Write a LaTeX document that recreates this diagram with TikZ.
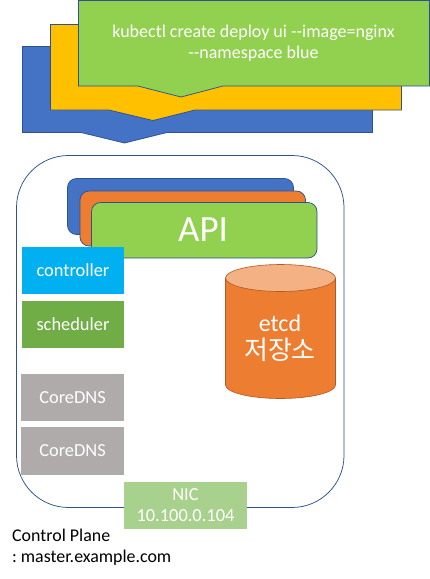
\documentclass[tikz,border=0pt]{standalone}
\usepackage{fontspec}
\setmainfont{Carlito}
\newfontfamily\krfont{Noto Sans CJK KR}
\definecolor{edgeblue}{HTML}{2F528F}
\definecolor{cblue}{HTML}{4472C4}
\definecolor{corange}{HTML}{ED7D31}
\definecolor{cyellow}{HTML}{FFC000}
\definecolor{cgreen}{HTML}{92D050}
\definecolor{ccyan}{HTML}{00B0F0}
\definecolor{csched}{HTML}{70AD47}
\definecolor{cgray}{HTML}{AFABAB}
\definecolor{cnic}{HTML}{A9D18E}
\definecolor{ctop}{HTML}{F4B183}
\definecolor{cedge}{HTML}{AE5A21}
\tikzset{
  x=1pt,y=-1pt,
  callout/.style={draw=edgeblue,line width=0.75pt,line join=miter},
  apibox/.style={draw=edgeblue,line width=0.75pt,rounded corners=9pt},
  flat/.style={inner sep=0pt,outer sep=0pt,text=white,align=center,font=\fontsize{18.4}{21}\selectfont,anchor=north west},
  lbl/.style={inner sep=0pt,text=white,align=center},
}
\begin{document}
\begin{tikzpicture}
\useasboundingbox (0,0) rectangle (430,579);
\fill[white] (0,0) rectangle (430,579);
% stacked callouts
\draw[callout,fill=cblue] (22.5,46.5) -- (372.5,46.5) -- (372.5,132.5) -- (167,132.5) -- (124.5,143) -- (81,132.5) -- (22.5,132.5) -- cycle;
\draw[callout,fill=cyellow] (50.5,24.5) -- (401.5,24.5) -- (401.5,110) -- (195,110) -- (153,120.5) -- (109,110) -- (50.5,110) -- cycle;
\draw[callout,fill=cgreen] (78.5,0.5) -- (429.5,0.5) -- (429.5,86) -- (223,86) -- (181,97) -- (138,86) -- (78.5,86) -- cycle;
\node[lbl,font=\fontsize{18}{21}\selectfont] (cmd) at (253.5,43.5) {kubectl create deploy ui -{}-image=nginx\\-{}-namespace blue};
% control plane
\draw[draw=edgeblue,line width=0.75pt,rounded corners=52pt] (16.5,155.5) rectangle (344,507.5);
% API stack
\draw[apibox,fill=cblue] (67.5,178.5) rectangle (293.5,234.5);
\draw[apibox,fill=corange] (80,191) rectangle (305.5,246);
\draw[apibox,fill=cgreen] (91.5,202.5) rectangle (317,258);
\node[lbl,font=\fontsize{37}{40}\selectfont] (api) at (203,230) {API};
% side boxes
\node[flat,fill=ccyan,minimum width=102pt,minimum height=47pt] (ctrl) at (22,247) {controller};
\node[flat,fill=csched,minimum width=102pt,minimum height=47pt] (sched) at (22,301) {scheduler};
\node[flat,fill=cgray,minimum width=103pt,minimum height=47pt] (dnsa) at (21,374) {CoreDNS};
\node[flat,fill=cgray,minimum width=103pt,minimum height=48pt] (dnsb) at (21,427) {CoreDNS};
\node[flat,fill=cnic,minimum width=123pt,minimum height=47pt] (nic) at (124,482) {NIC\\10.100.0.104};
% etcd cylinder
\draw[draw=cedge,line width=0.6pt,fill=corange] (225.5,278) -- (225.5,385) arc[start angle=180,end angle=360,x radius=55,y radius=-13.5] -- (335.5,278) -- cycle;
\draw[draw=cedge,line width=0.6pt,fill=ctop] (280.5,278) ellipse[x radius=55,y radius=13.5];
\node[lbl,font=\fontsize{24}{28}\selectfont] (etcd) at (280,338) {etcd\\{\krfont\fontsize{26}{28}\selectfont 저장소}};
% caption
\node[inner sep=0pt,align=left,anchor=north west,text=black,font=\fontsize{17.9}{21}\selectfont] (cap) at (12,528.5) {Control Plane\\:\hspace{-1.5pt} master.example.com};
\end{tikzpicture}
\end{document}
